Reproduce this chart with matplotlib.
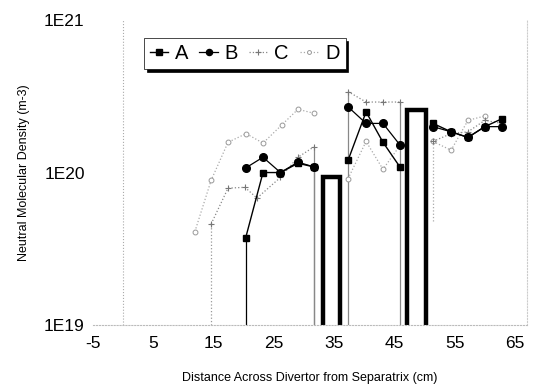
import matplotlib
matplotlib.use("Agg")
import matplotlib.pyplot as plt
import numpy as np

plt.rcParams['font.family'] = ['Liberation Sans', 'DejaVu Sans']
plt.rcParams['axes.unicode_minus'] = False

# --- data ---
a_x = [20.3, 23.2, 26.1, 29.0, 31.6, np.nan, 37.3, 40.3, 43.1, 45.9, np.nan, 51.4, 54.4, 57.2, 60.0, 62.8]
a_y = [3.7e19, 1.0e20, 1.0e20, 1.15e20, 1.09e20, np.nan, 1.2e20, 2.5e20, 1.58e20, 1.09e20, np.nan, 2.1e20, 1.85e20, 1.7e20, 2.0e20, 2.25e20]

b_x = [20.3, 23.2, 26.1, 29.0, 31.6, np.nan, 37.3, 40.3, 43.1, 45.9, np.nan, 51.4, 54.4, 57.2, 60.0, 62.8]
b_y = [1.07e20, 1.26e20, 1.0e20, 1.17e20, 1.09e20, np.nan, 2.7e20, 2.1e20, 2.1e20, 1.52e20, np.nan, 2.0e20, 1.85e20, 1.7e20, 2.0e20, 2.0e20]

c_x = [14.6, 17.4, 20.2, 22.2, 26.1, 29.0, 31.6, np.nan, 37.3, 40.3, 43.1, 45.9, np.nan, 51.4, 54.4, 57.2, 60.0, 62.8]
c_y = [4.6e19, 7.9e19, 8.0e19, 6.8e19, 9.3e19, 1.26e20, 1.47e20, np.nan, 3.4e20, 2.9e20, 2.9e20, 2.9e20, np.nan, 1.6e20, 1.8e20, 1.85e20, 2.2e20, 2.1e20]

d_x = [11.9, 14.6, 17.4, 20.4, 23.2, 26.3, 29.0, 31.6, np.nan, 37.3, 40.3, 43.1, 45.9, np.nan, 51.4, 54.4, 57.2, 60.0]
d_y = [4.1e19, 8.9e19, 1.58e20, 1.8e20, 1.56e20, 2.05e20, 2.6e20, 2.45e20, np.nan, 9.1e19, 1.6e20, 1.05e20, 1.5e20, np.nan, 1.6e20, 1.4e20, 2.2e20, 2.35e20]

# vertical drop lines: x, top value, bottom value
drop_x = [14.6, 20.3, 31.6, 31.6, 37.3, 45.9, 51.4]
drop_top = [4.6e19, 3.7e19, 1.47e20, 1.09e20, 3.4e20, 2.9e20, 1.6e20]
drop_bottom = [1e19, 1e19, 1e19, 1e19, 1e19, 1e19, 4.8e19]
drop_color = ['#999999', 'black', '#888888', '#888888', '#888888', '#888888', '#aaaaaa']
drop_style = [':', '-', '-', '-', '-', '-', ':']

# structures drawn as open bars
bar_x = [34.55, 48.65]
bar_top = [9.3e19, 2.57e20]
bar_w = [2.9, 3.1]

xticks = [-5, 5, 15, 25, 35, 45, 55, 65]
yticks = [1e19, 1e20, 1e21]
ytick_labels = ['1E19', '1E20', '1E21']

fig = plt.figure(figsize=(5.49, 3.86), dpi=100)
ax = fig.add_axes([0.1694, 0.158, 0.7906, 0.790])
ax.set_yscale('log')
ax.set_xlim(-5, 67)
ax.set_ylim(1e19, 1e21)

# open bars for the divertor structures
ax.bar(bar_x, np.array(bar_top) - 5e18, bottom=5e18, width=bar_w,
       facecolor='white', edgecolor='black', linewidth=3.2, zorder=2)

for x, t, b, c, s in zip(drop_x, drop_top, drop_bottom, drop_color, drop_style):
    ax.plot([x, x], [b, t], color=c, linestyle=s, linewidth=0.9, zorder=1)

ax.plot(d_x, d_y, color='#aaaaaa', linestyle=':', linewidth=0.9, marker='o',
        markersize=3.5, markerfacecolor='white', markeredgecolor='#999999',
        markeredgewidth=0.7, label='D', zorder=3)
ax.plot(c_x, c_y, color='#888888', linestyle=':', linewidth=0.9, marker='+',
        markersize=5, markeredgecolor='#777777', markeredgewidth=0.8,
        label='C', zorder=3)
ax.plot(b_x, b_y, color='black', linewidth=0.9, marker='o', markersize=5.5,
        label='B', zorder=4)
ax.plot(a_x, a_y, color='black', linewidth=1.0, marker='s', markersize=5,
        label='A', zorder=4)

# y axis crossing at x = 0, drawn faint as in the scan
ax.axvline(0, color='#aaaaaa', linestyle=':', linewidth=0.8, zorder=0)

for side in ['top', 'left']:
    ax.spines[side].set_visible(False)
ax.spines['right'].set_color('#cccccc')
ax.spines['right'].set_linestyle(':')
ax.spines['bottom'].set_color('#bbbbbb')
ax.spines['bottom'].set_linestyle(':')

ax.set_xticks(xticks)
ax.set_yticks(yticks)
ax.set_yticklabels(ytick_labels)
ax.minorticks_off()
ax.tick_params(axis='both', length=0, labelsize=12.5, colors='black')
ax.tick_params(axis='x', pad=8)
ax.tick_params(axis='y', pad=6)

ax.set_xlabel('Distance Across Divertor from Separatrix (cm)', fontsize=9, labelpad=15)
ax.set_ylabel('Neutral Molecular Density (m-3)', fontsize=9, labelpad=10)

handles, labels = ax.get_legend_handles_labels()
order = [3, 2, 1, 0]
leg = ax.legend([handles[i] for i in order], [labels[i] for i in order],
                loc='upper left', bbox_to_anchor=(0.117, 0.942), ncol=4,
                fontsize=14.5, frameon=True, fancybox=False, edgecolor='black',
                shadow={'color': 'black', 'alpha': 1}, handlelength=0.9,
                markerscale=0.8, handletextpad=0.35, columnspacing=0.55,
                borderpad=0.3, borderaxespad=0)
leg.get_frame().set_linewidth(0.5)

fig.savefig('out.png', dpi=100)
